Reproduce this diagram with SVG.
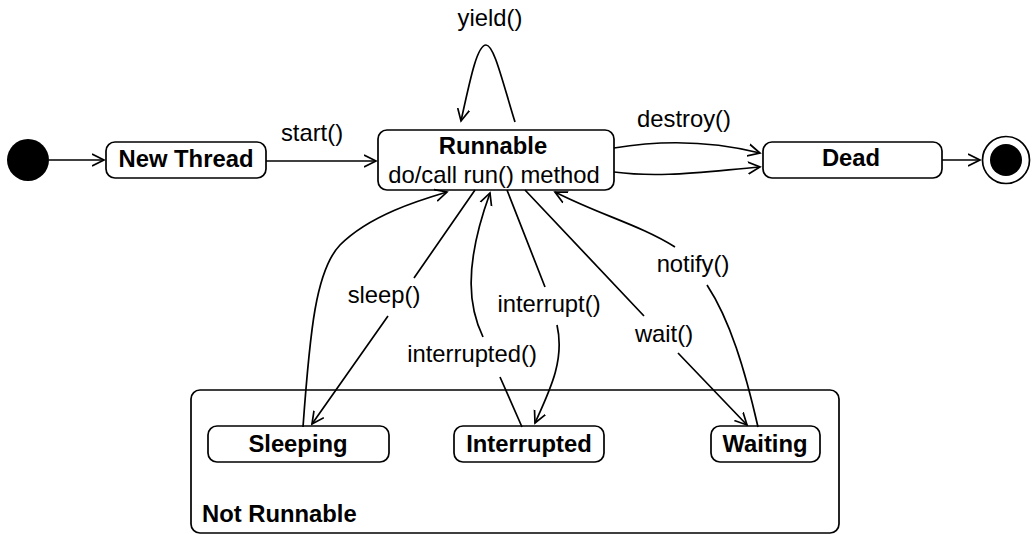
<svg xmlns="http://www.w3.org/2000/svg" width="1033" height="534" viewBox="0 0 1033 534">
<style>
.st{fill:#fff;stroke:#000;stroke-width:1.7}
.ln{fill:none;stroke:#000;stroke-width:1.7}
.b{font-family:"Liberation Sans",Arial,sans-serif;font-weight:bold;font-size:23.8px;fill:#000}
.r{font-family:"Liberation Sans",Arial,sans-serif;font-size:23.8px;fill:#000}
</style>
<defs>
<marker id="a" markerUnits="userSpaceOnUse" markerWidth="14" markerHeight="14" refX="12" refY="6" orient="auto" viewBox="0 0 14 12">
<path d="M0,0 L12,6 L0,12" fill="none" stroke="#000" stroke-width="1.7"/>
</marker>
</defs>
<rect width="1033" height="534" fill="#fff"/>
<g id="notRunnable">
<rect class="st" x="191" y="390" width="648" height="143" rx="9"/>
<text class="b" x="202" y="522">Not Runnable</text>
</g>
<g id="initial"><circle cx="28" cy="160" r="21" fill="#000"/></g>
<g id="newThread">
<rect class="st" x="106" y="142" width="160" height="36" rx="9"/>
<text class="b" x="186" y="167" text-anchor="middle">New Thread</text>
</g>
<g id="runnable">
<rect class="st" x="378" y="130" width="236" height="60" rx="9"/>
<text class="b" x="493" y="154" text-anchor="middle">Runnable</text>
<text class="r" x="494" y="183" text-anchor="middle">do/call run() method</text>
</g>
<g id="dead">
<rect class="st" x="763" y="142" width="179" height="36" rx="9"/>
<text class="b" x="851" y="166" text-anchor="middle">Dead</text>
</g>
<g id="final">
<circle cx="1006" cy="160" r="23.5" fill="#fff" stroke="#000" stroke-width="1.7"/>
<circle cx="1006" cy="160" r="16" fill="#000"/>
</g>
<g id="sleeping">
<rect class="st" x="208" y="426" width="181" height="36" rx="9"/>
<text class="b" x="298" y="452" text-anchor="middle">Sleeping</text>
</g>
<g id="interrupted">
<rect class="st" x="454" y="426" width="150" height="36" rx="9"/>
<text class="b" x="529" y="452" text-anchor="middle">Interrupted</text>
</g>
<g id="waiting">
<rect class="st" x="711" y="426" width="109" height="36" rx="9"/>
<text class="b" x="765" y="452" text-anchor="middle">Waiting</text>
</g>
<g id="connectors">
<path class="ln" d="M49,160 L104,160" marker-end="url(#a)"/>
<path class="ln" d="M266,161 L376,161" marker-end="url(#a)"/>
<text class="r" x="312" y="141" text-anchor="middle">start()</text>
<path class="ln" d="M515,122 C502,80 494,45 486,45 C477,45 470,80 461,121" marker-end="url(#a)"/>
<text class="r" x="490" y="26" text-anchor="middle">yield()</text>
<path class="ln" d="M614,148 C650,142 700,138 760,153" marker-end="url(#a)"/>
<path class="ln" d="M614,172 C660,178 700,172 760,167" marker-end="url(#a)"/>
<text class="r" x="684" y="127" text-anchor="middle">destroy()</text>
<path class="ln" d="M942,160 L980,160" marker-end="url(#a)"/>
<path class="ln" d="M303,427 C310,330 316,270 340,245 C370,215 420,200 447,192" marker-end="url(#a)"/>
<path class="ln" d="M475,190 L414,278 M388,316 L312,424" marker-end="url(#a)"/>
<text class="r" x="384" y="303" text-anchor="middle">sleep()</text>
<path class="ln" d="M522,427 L500,377 M483,337 C470,310 462,270 490,193" marker-end="url(#a)"/>
<text class="r" x="472" y="362" text-anchor="middle">interrupted()</text>
<path class="ln" d="M507,190 L545,287 M557,325 C565,360 550,390 535,423" marker-end="url(#a)"/>
<text class="r" x="549" y="312" text-anchor="middle">interrupt()</text>
<path class="ln" d="M525,190 L644,316 M678,353 L747,425" marker-end="url(#a)"/>
<text class="r" x="664" y="342" text-anchor="middle">wait()</text>
<path class="ln" d="M758,427 C745,370 730,320 707,285 M675,247 C640,225 600,215 555,192" marker-end="url(#a)"/>
<text class="r" x="693" y="272" text-anchor="middle">notify()</text>
</g>
</svg>
